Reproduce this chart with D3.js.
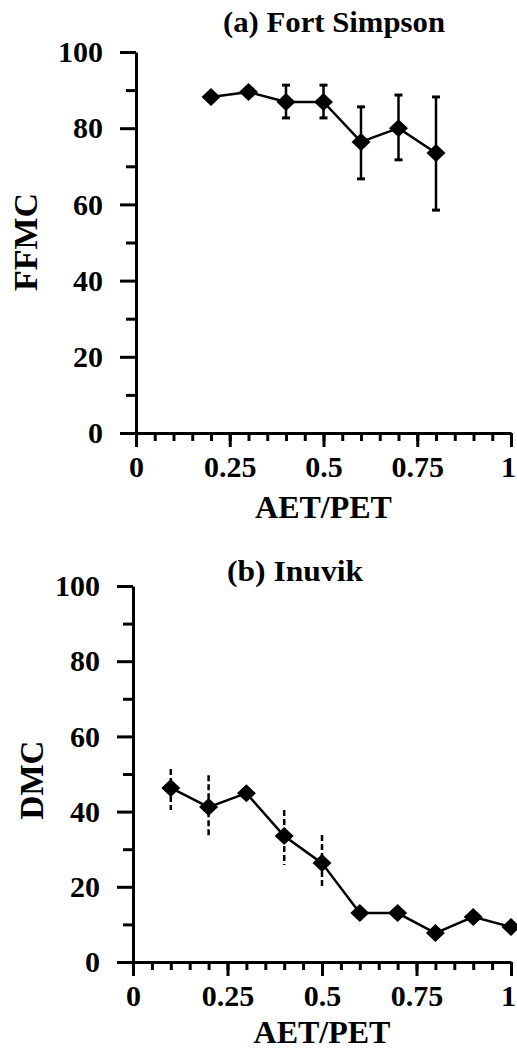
<!DOCTYPE html>
<html>
<head>
<meta charset="utf-8">
<script src="https://cdn.jsdelivr.net/npm/d3@7"></script>
<style>
  body { margin: 0; background: #fff; }
  svg text { font-family: "Liberation Serif", "Times New Roman", serif; font-weight: bold; fill: #000; }
</style>
</head>
<body>
<div id="viz"></div>
<script>
// donnees
const xTicks = [0, 0.25, 0.5, 0.75, 1];
const yTicks = [0, 20, 40, 60, 80, 100];

// (a) Fort Simpson
const fsRatio = [0.2, 0.3, 0.4, 0.5, 0.6, 0.7, 0.8];
const fsFFMC  = [88.2, 89.5, 86.9, 86.9, 76.4, 80.0, 73.5];
const fsHigh  = [null, null, 91.3, 91.3, 85.6, 88.7, 88.2];
const fsLow   = [null, null, 82.7, 82.7, 66.7, 71.7, 58.5];

// (b) Inuvik
const inRatio = [0.1, 0.2, 0.3, 0.4, 0.5, 0.6, 0.7, 0.8, 0.9, 1.0];
const inDMC   = [46.3, 41.2, 44.9, 33.5, 26.3, 13.0, 13.0, 7.7, 12.0, 9.3];
const inHigh  = [51.3, 49.7, null, 40.4, 33.8, null, null, null, null, null];
const inLow   = [40.4, 33.0, null, 25.8, 19.7, null, null, null, null, null];

const W = 517, H = 1053;

const svg = d3.select("#viz").append("svg")
  .attr("width", W).attr("height", H);

// panneaux : placement en pixels
const panels = [
  { title: "(a) Fort Simpson", titleX: 334, titleY: 32, titleLen: 222,
    ylab: "FFMC", ylabX: 37, ylabY: 242, ylabSize: 34, xlabY: 518,
    left: 136, right: 511, top: 52, bottom: 433,
    xs: fsRatio, ys: fsFFMC, hi: fsHigh, lo: fsLow, caps: true, dash: null },
  { title: "(b) Inuvik", titleX: 295, titleY: 581, titleLen: 136,
    ylab: "DMC", ylabX: 43, ylabY: 780, ylabSize: 33, xlabY: 1043,
    left: 133, right: 511, top: 586, bottom: 962,
    xs: inRatio, ys: inDMC, hi: inHigh, lo: inLow, caps: false, dash: "6,3" }
];

panels.forEach(p => {
  const x = d3.scaleLinear().domain([0, 1]).range([p.left, p.right]);
  const y = d3.scaleLinear().domain([0, 100]).range([p.bottom, p.top]);
  const g = svg.append("g");

  // axe X : graduations mineures puis majeures
  g.append("g")
    .attr("transform", `translate(0,${p.bottom})`)
    .call(d3.axisBottom(x).tickValues(d3.range(0, 1.0001, 0.05)).tickSize(8).tickSizeOuter(0).tickFormat(""))
    .call(a => a.select(".domain").remove());
  g.append("g")
    .attr("transform", `translate(0,${p.bottom})`)
    .call(d3.axisBottom(x).tickValues(xTicks).tickSize(14).tickSizeOuter(0).tickPadding(9)
      .tickFormat(d => d === 0 ? "0" : d === 1 ? "1" : String(d)))
    .call(a => a.select(".domain").attr("stroke-width", 3))
    .call(a => a.selectAll("text").style("font-size", "30px")
      .attr("dx", d => d === 1 ? -3 : 0));

  // axe Y
  g.append("g")
    .attr("transform", `translate(${p.left},0)`)
    .call(d3.axisLeft(y).tickValues(d3.range(10, 100, 20)).tickSize(10).tickSizeOuter(0).tickFormat(""))
    .call(a => a.select(".domain").remove());
  g.append("g")
    .attr("transform", `translate(${p.left},0)`)
    .call(d3.axisLeft(y).tickValues(yTicks).tickSize(16).tickSizeOuter(0).tickPadding(17))
    .call(a => a.select(".domain").attr("stroke-width", 3))
    .call(a => a.selectAll("text").style("font-size", "30px"));

  g.selectAll(".tick line").attr("stroke-width", 3);

  // titres
  g.append("text")
    .attr("x", p.titleX).attr("y", p.titleY)
    .attr("text-anchor", "middle")
    .attr("textLength", p.titleLen).attr("lengthAdjust", "spacingAndGlyphs")
    .style("font-size", "29px")
    .text(p.title);

  g.append("text")
    .attr("transform", `translate(${p.ylabX},${p.ylabY}) rotate(-90)`)
    .attr("text-anchor", "middle")
    .style("font-size", p.ylabSize + "px")
    .text(p.ylab);

  g.append("text")
    .attr("x", x(0.5)).attr("y", p.xlabY)
    .attr("text-anchor", "middle")
    .style("font-size", "32px")
    .text("AET/PET");

  const pts = p.xs.map((v, i) => ({ x: v, y: p.ys[i], hi: p.hi[i], lo: p.lo[i] }));

  // barres d'erreur
  const eb = pts.filter(d => d.hi !== null);
  g.append("g").selectAll("line")
    .data(eb).join("line")
      .attr("x1", d => x(d.x)).attr("x2", d => x(d.x))
      .attr("y1", d => y(d.hi)).attr("y2", d => y(d.lo))
      .attr("stroke", "#000").attr("stroke-width", 2.5)
      .attr("stroke-dasharray", p.dash);
  if (p.caps) {
    ["hi", "lo"].forEach(k => {
      g.append("g").selectAll("line")
        .data(eb).join("line")
          .attr("x1", d => x(d.x) - 4).attr("x2", d => x(d.x) + 4)
          .attr("y1", d => y(d[k])).attr("y2", d => y(d[k]))
          .attr("stroke", "#000").attr("stroke-width", 3);
    });
  }

  // courbe
  g.append("path")
    .datum(pts)
    .attr("d", d3.line().x(d => x(d.x)).y(d => y(d.y)))
    .attr("fill", "none").attr("stroke", "#000").attr("stroke-width", 2.5);

  // losanges
  const hw = 9.5, hh = 9;
  g.append("g").selectAll("path")
    .data(pts).join("path")
      .attr("d", d => {
        const cx = x(d.x), cy = y(d.y);
        return `M${cx},${cy - hh}L${cx + hw},${cy}L${cx},${cy + hh}L${cx - hw},${cy}Z`;
      })
      .attr("fill", "#000");
});
</script>
</body>
</html>
